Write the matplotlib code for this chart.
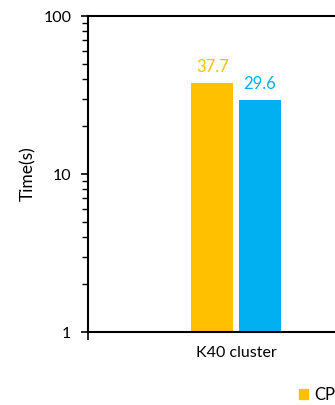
import matplotlib
matplotlib.use("Agg")
from matplotlib import pyplot as plt
from matplotlib.patches import Patch

# Run time on the K40 cluster, log scale
clusters = ["K40 cluster"]
series = ["CPU", "GPU"]
cpu_time = [37.7]
gpu_time = [29.6]
colors = ["#FFC000", "#00B0F0"]

plt.rcParams["font.family"] = ["Lato", "DejaVu Sans"]

W, H = 335, 405
fig = plt.figure(figsize=(W / 100, H / 100), dpi=100)
# plot area runs past the right edge of the figure
ax = fig.add_axes([88 / W, (H - 332) / H, 296 / W, 316 / H])

width = 0.142
gap = 0.018
x = list(range(len(clusters)))
for i, (vals, c) in enumerate(zip([cpu_time, gpu_time], colors)):
    offs = (i - 0.5) * (width + gap)
    xs = [xi + offs for xi in x]
    ax.bar(xs, vals, width=width, color=c, zorder=2)
    for xv, v in zip(xs, vals):
        ax.text(xv, v * 1.12, f"{v}", color=c, ha="center", va="bottom", fontsize=12)

ax.set_yscale("log")
ax.set_ylim(1, 100)
ax.set_xlim(-0.5, len(clusters) - 0.5)
ax.set_yticks([1, 10, 100])
ax.set_yticklabels(["1", "10", "100"])
ax.tick_params(axis="y", which="major", direction="out", length=5, width=1.2,
               pad=7, labelsize=11.5)
ax.tick_params(axis="y", which="minor", direction="out", length=4, width=1.0)
ax.set_ylabel("Time(s)", fontsize=12.5, labelpad=5)

# category boundaries as ticks, names centred between them
ax.set_xticks([-0.5 + k for k in range(len(clusters) + 1)])
ax.set_xticklabels([""] * (len(clusters) + 1))
ax.set_xticks(x, minor=True)
ax.set_xticklabels(clusters, minor=True)
ax.tick_params(axis="x", which="major", direction="out", length=6, width=1.2)
ax.tick_params(axis="x", which="minor", length=0, pad=10, labelsize=11.5)

for side in ["left", "bottom", "top"]:
    ax.spines[side].set_linewidth(1.5)
ax.spines["right"].set_visible(False)

handles = [Patch(color=c, label=s) for c, s in zip(colors, series)]
fig.legend(handles=handles, ncol=2, frameon=False, loc="center left",
           bbox_to_anchor=(286 / W, (H - 395) / H), borderpad=0.3, fontsize=12,
           handlelength=0.5, handleheight=0.5, handletextpad=0.4)

fig.savefig("out.png", dpi=100)
